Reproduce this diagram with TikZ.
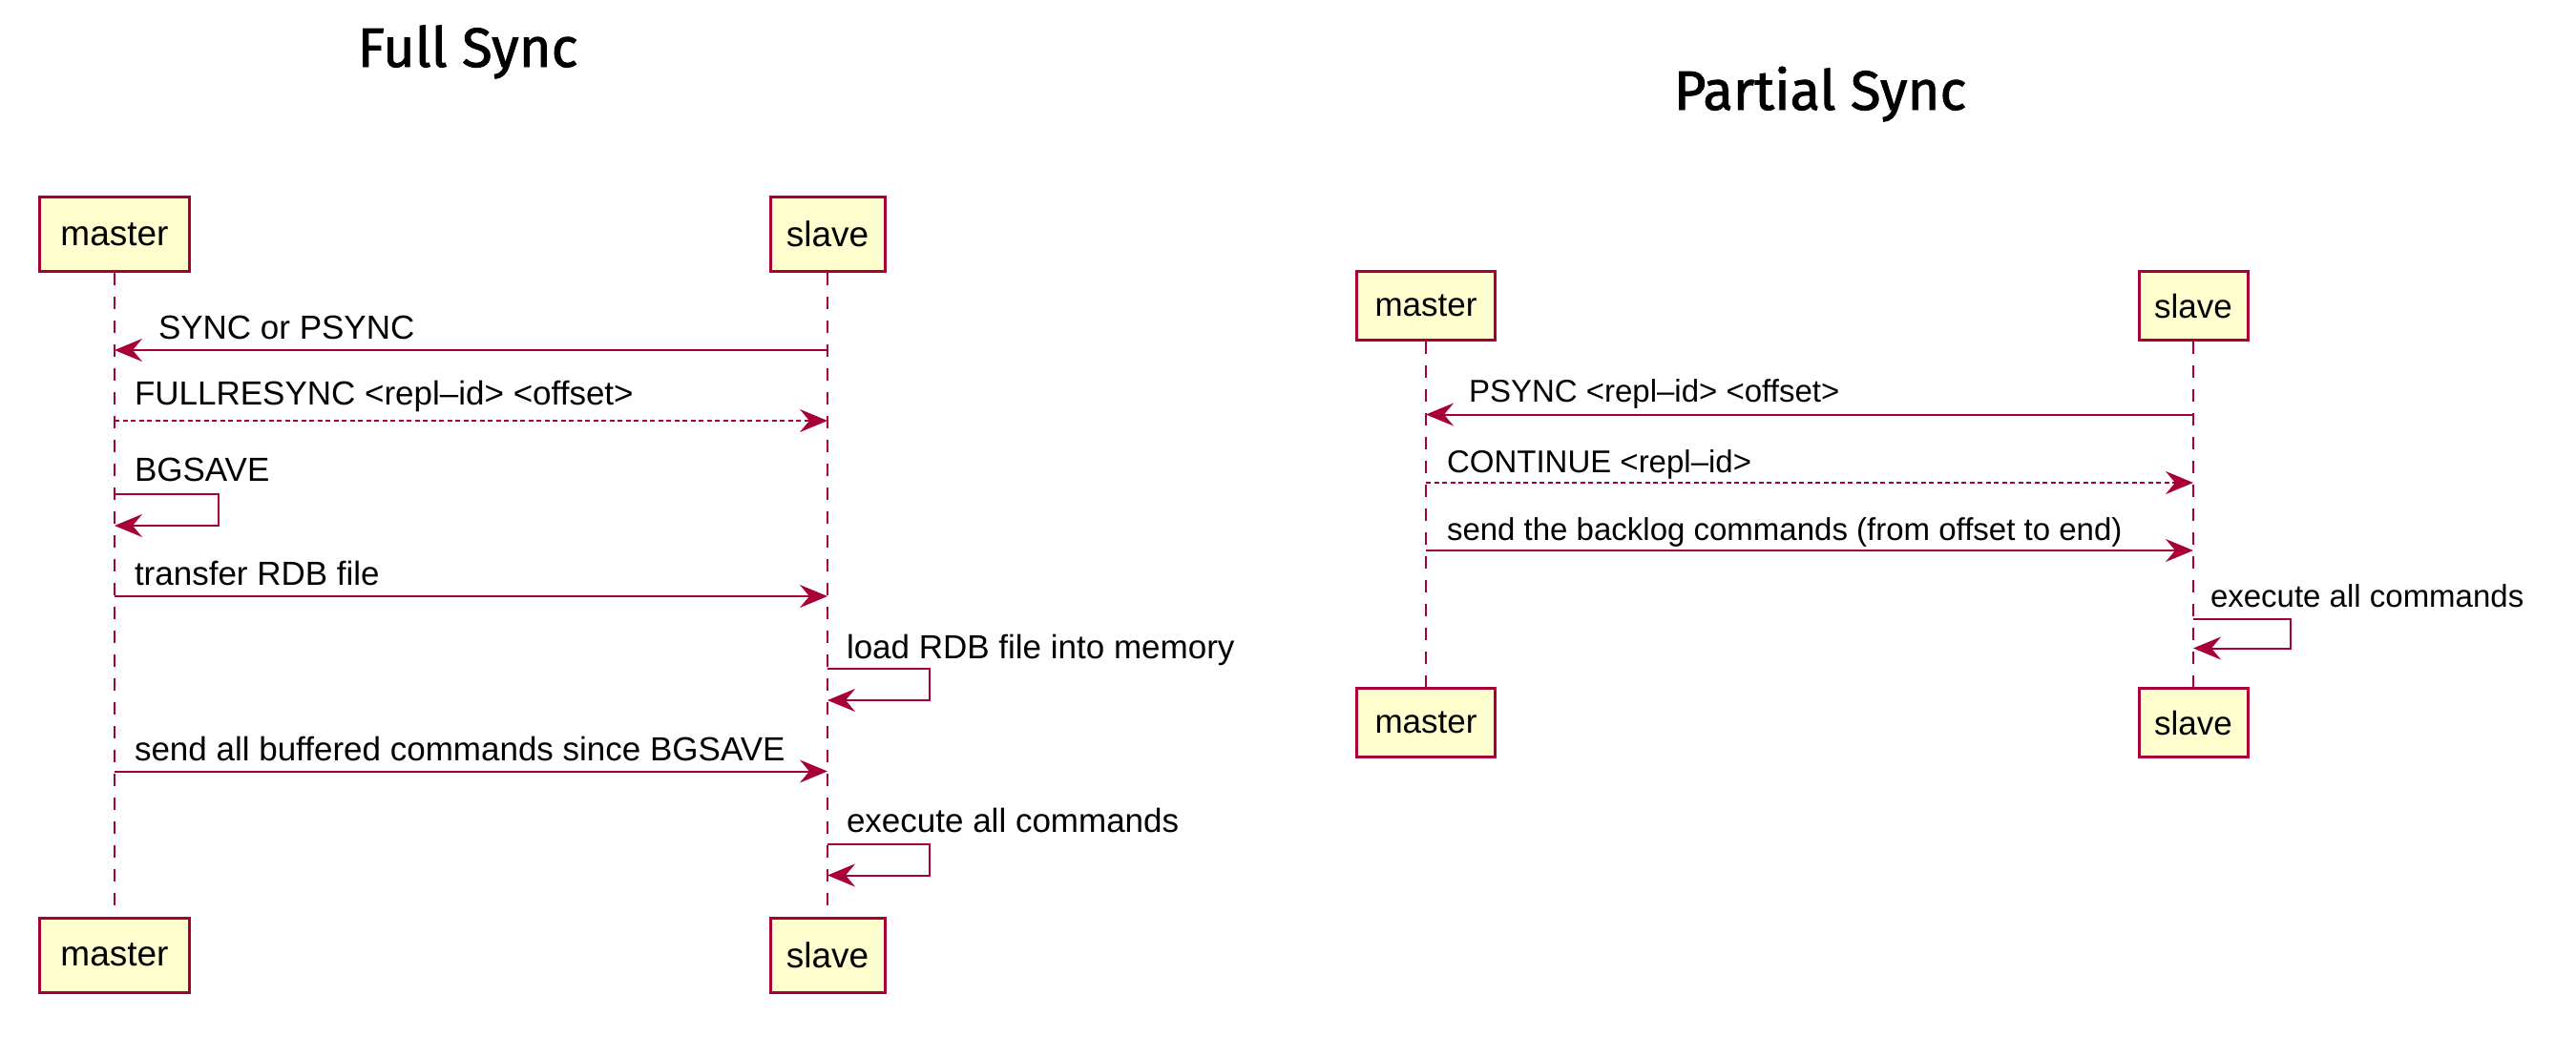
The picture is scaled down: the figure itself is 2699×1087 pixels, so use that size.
\documentclass[tikz,border=0pt]{standalone}
\usepackage{fontspec}
\setmainfont{Liberation Sans}
\newfontfamily\titlefont[FakeBold=1.5]{Fira Sans}
\usetikzlibrary{positioning,arrows.meta}
\definecolor{umlred}{HTML}{A80036}
\definecolor{umlfill}{HTML}{FEFECE}
\tikzset{every picture/.style={line width=2pt}}

\begin{document}
\begin{tikzpicture}[x=1pt, y=-1pt,
    actor/.style={draw=umlred, line width=3pt, fill=umlfill, rectangle, inner sep=0pt, font=\fontsize{37}{44}\selectfont},
    lifeline/.style={umlred, dash pattern=on 13pt off 12pt},
    msg/.style={anchor=base west, inner sep=0pt, font=\fontsize{35}{42}\selectfont},
    call/.style={umlred, -{Stealth[length=29pt, width=24pt, inset=10pt]}},
    reply/.style={call, dash pattern=on 5pt off 3.5pt},
    heading/.style={anchor=base, inner sep=0pt, font=\titlefont\fontsize{58}{70}\selectfont}]
    \fill[white] (0,0) rectangle (2699,1087);
    \useasboundingbox (0,0) rectangle (2699,1087);

    % Titles
    \node[heading] (fulltitle) at (490,70) {Full Sync};
    \node[heading] (parttitle) at (1907,115) {Partial Sync};

    % Full sync participants
    \node[actor, minimum width=157pt, minimum height=78pt] (fmaster) at (120,245.5) {master};
    \node[actor, minimum width=120pt, minimum height=78pt] (fslave) at (867,245.5) {slave};
    \node[actor, minimum width=157pt, minimum height=78pt] (fmasterend) at (120,1001) {master};
    \node[actor, minimum width=120pt, minimum height=78pt] (fslaveend) at (867,1001) {slave};
    \draw[lifeline] (fmaster) -- (fmasterend);
    \draw[lifeline] (fslave) -- (fslaveend);

    % Full sync messages
    \coordinate (f1) at (0,367);
    \coordinate (f2) at (0,441);
    \coordinate (f3) at (0,518);
    \coordinate (f4) at (0,625);
    \coordinate (f5) at (0,701);
    \coordinate (f6) at (0,808.5);
    \coordinate (f7) at (0,884.5);
    \draw[call] (fslave |- f1) -- (fmaster |- f1);
    \node[msg] (fsync) at (165,355) {SYNC or PSYNC};
    \draw[reply] (fmaster |- f2) -- (fslave |- f2);
    \node[msg] (fresync) at (140,424) {FULLRESYNC <repl--id> <offset>};
    \draw[call] (fmaster |- f3) -- ++(109,0) -- ++(0,33) -- ++(-109,0);
    \node[msg] (fbgsave) at (140,504) {BGSAVE};
    \draw[call] (fmaster |- f4) -- (fslave |- f4);
    \node[msg] (ftransfer) at (140,613) {transfer RDB file};
    \draw[call] (fslave |- f5) -- ++(107,0) -- ++(0,33) -- ++(-107,0);
    \node[msg] (fload) at (886,690) {load RDB file into memory};
    \draw[call] (fmaster |- f6) -- (fslave |- f6);
    \node[msg] (fbuffer) at (140,797) {send all buffered commands since BGSAVE};
    \draw[call] (fslave |- f7) -- ++(107,0) -- ++(0,33) -- ++(-107,0);
    \node[msg] (fexec) at (886,872) {execute all commands};

    % Partial sync
    \begin{scope}[actor/.append style={font=\fontsize{35}{42}\selectfont},
                  msg/.append style={font=\fontsize{33}{40}\selectfont}]
    \node[actor, minimum width=145pt, minimum height=72pt] (pmaster) at (1494,320.5) {master};
    \node[actor, minimum width=114pt, minimum height=72pt] (pslave) at (2298,320.5) {slave};
    \node[actor, minimum width=145pt, minimum height=72pt] (pmasterend) at (1494,757.5) {master};
    \node[actor, minimum width=114pt, minimum height=72pt] (pslaveend) at (2298,757.5) {slave};
    \draw[lifeline] (pmaster) -- (pmasterend);
    \draw[lifeline] (pslave) -- (pslaveend);

    \coordinate (p1) at (0,434.5);
    \coordinate (p2) at (0,506);
    \coordinate (p3) at (0,577);
    \coordinate (p4) at (0,648.5);
    \draw[call] (pslave |- p1) -- (pmaster |- p1);
    \node[msg] (ppsync) at (1538,421) {PSYNC <repl--id> <offset>};
    \draw[reply] (pmaster |- p2) -- (pslave |- p2);
    \node[msg] (pcontinue) at (1515,495) {CONTINUE <repl--id>};
    \draw[call] (pmaster |- p3) -- (pslave |- p3);
    \node[msg] (pbacklog) at (1515,566) {send the backlog commands (from offset to end)};
    \draw[call] (pslave |- p4) -- ++(102,0) -- ++(0,31) -- ++(-102,0);
    \node[msg] (pexec) at (2315,636) {execute all commands};
    \end{scope}
\end{tikzpicture}
\end{document}
